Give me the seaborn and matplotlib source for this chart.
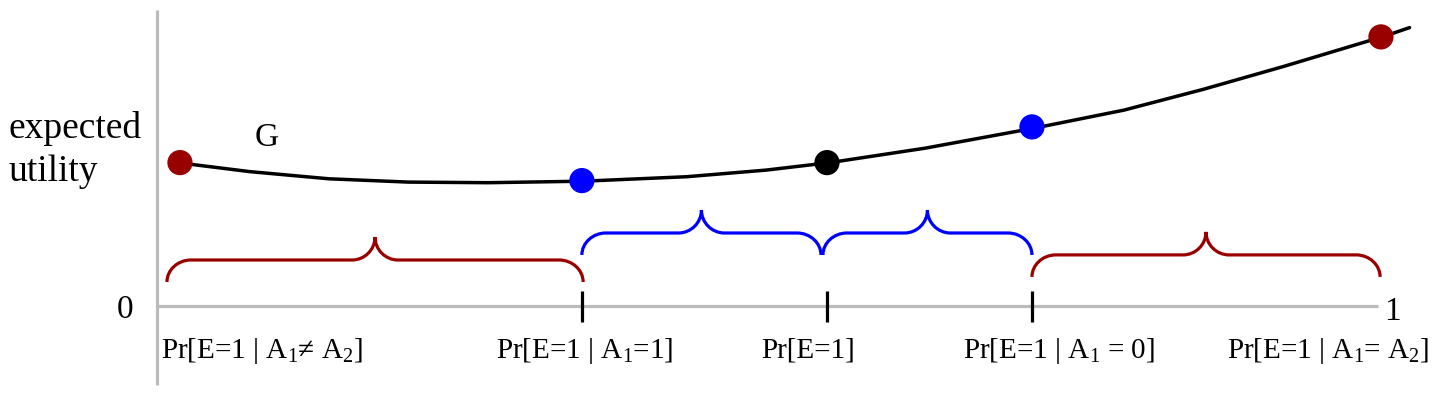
import numpy as np
import pandas as pd
import matplotlib
matplotlib.use("Agg")
import matplotlib.pyplot as plt
from matplotlib.path import Path
from matplotlib.patches import PathPatch
import seaborn as sns

# ---- data ----
curve_p = [0.0204, 0.0753, 0.140, 0.2048, 0.2695, 0.347, 0.4316, 0.496, 0.548,
           0.6254, 0.7158, 0.7875, 0.8518, 0.917, 1.000, 1.020]
curve_u = [0.476, 0.448, 0.424, 0.413, 0.411, 0.416, 0.431, 0.453, 0.478,
           0.526, 0.594, 0.653, 0.722, 0.798, 0.900, 0.928]

point_p = [0.0187, 0.346, 0.5456, 0.7125, 0.9967]
point_u = [0.478, 0.418, 0.478, 0.597, 0.897]
point_kind = ["red", "blue", "black", "blue", "red"]

tick_p = [0.346, 0.5456, 0.7125]

label_p = [0.0855, 0.3485, 0.530, 0.7345, 0.954]
label_text = [r"Pr[E=1 | A$_1$≠ A$_2$]", r"Pr[E=1 | A$_1$=1]", "Pr[E=1]",
              r"Pr[E=1 | A$_1$ = 0]", r"Pr[E=1 | A$_1$= A$_2$]"]

brace_start = [0.0081, 0.346, 0.5423, 0.7125]
brace_end = [0.347, 0.5407, 0.7125, 0.996]
brace_base = [0.080, 0.170, 0.170, 0.097]
brace_kind = ["red", "blue", "blue", "red"]

palette = {"red": "#990000", "blue": "#0000ff", "black": "#000000"}

# ---- figure ----
sns.set_theme(style="white")
plt.rcParams["font.family"] = ["Liberation Serif", "DejaVu Serif"]
plt.rcParams["text.color"] = "black"
plt.rcParams["mathtext.fontset"] = "custom"
plt.rcParams["mathtext.rm"] = "Liberation Serif"
plt.rcParams["mathtext.it"] = "Liberation Serif:italic"

fig = plt.figure(figsize=(14.36, 4.13), dpi=100)
ax = fig.add_axes([0, 0, 1, 1])
PXX, PXY = 1228.0, 300.0  # pixels per data unit
ax.set_xlim(-157 / PXX, (1436 - 157) / PXX)
ax.set_ylim(-107 / PXY, 306 / PXY)
ax.axis("off")

gray = "#bbbbbb"
# axes lines
ax.plot([0, 0], [-79 / PXY, 296 / PXY], color=gray, lw=2.3, solid_capstyle="butt")
ax.plot([0, 0.994], [0, 0], color=gray, lw=2.3, solid_capstyle="butt")

# ticks
for tp in tick_p:
    ax.plot([tp, tp], [-16 / PXY, 15 / PXY], color="black", lw=2.3, solid_capstyle="butt")

# braces
def brace(x0, x1, yb, color):
    r = 24 / PXX
    ry = 22 / PXY
    rt = 23 / PXX
    rty = 23 / PXY
    k = 0.55
    xm = (x0 + x1) / 2
    yf = yb + ry
    yt = yf + rty
    verts = [
        (x0, yb),
        (x0, yb + k * ry), (x0 + r - k * r, yf), (x0 + r, yf),
        (xm - rt, yf),
        (xm - rt + k * rt, yf), (xm, yt - k * rty), (xm, yt),
        (xm, yt - k * rty), (xm + rt - k * rt, yf), (xm + rt, yf),
        (x1 - r, yf),
        (x1 - r + k * r, yf), (x1, yb + k * ry), (x1, yb),
    ]
    codes = [Path.MOVETO,
             Path.CURVE4, Path.CURVE4, Path.CURVE4,
             Path.LINETO,
             Path.CURVE4, Path.CURVE4, Path.CURVE4,
             Path.CURVE4, Path.CURVE4, Path.CURVE4,
             Path.LINETO,
             Path.CURVE4, Path.CURVE4, Path.CURVE4]
    ax.add_patch(PathPatch(Path(verts, codes), fill=False, edgecolor=color, lw=2.3))

for s, e, b, k in zip(brace_start, brace_end, brace_base, brace_kind):
    brace(s, e, b, palette[k])

# curve G
curve_df = pd.DataFrame({"p": curve_p, "u": curve_u})
sns.lineplot(data=curve_df, x="p", y="u", sort=False, color="black", lw=2.5, ax=ax)

# points
pts = pd.DataFrame({"p": point_p, "u": point_u, "kind": point_kind})
sns.scatterplot(data=pts, x="p", y="u", hue="kind", palette=palette, s=330,
                edgecolor="none", legend=False, ax=ax, zorder=5)

# texts
tc = "black"
ax.text(-149 / PXX, 177 / PXY, "expected", fontsize=27, ha="left", va="center", color=tc)
ax.text(-149 / PXX, 134 / PXY, "utility", fontsize=27, ha="left", va="center", color=tc)
ax.text(110 / PXX, 168 / PXY, "G", fontsize=24, ha="center", va="center", color=tc)
ax.text(-32 / PXX, -4 / PXY, "0", fontsize=24, ha="center", va="center", color=tc)
ax.text(1235 / PXX, -6 / PXY, "1", fontsize=24, ha="center", va="center", color=tc)
for lp, lt in zip(label_p, label_text):
    ax.text(lp, -52 / PXY, lt, fontsize=21, ha="center", va="baseline", color=tc)

fig.savefig("out.png", dpi=100)
